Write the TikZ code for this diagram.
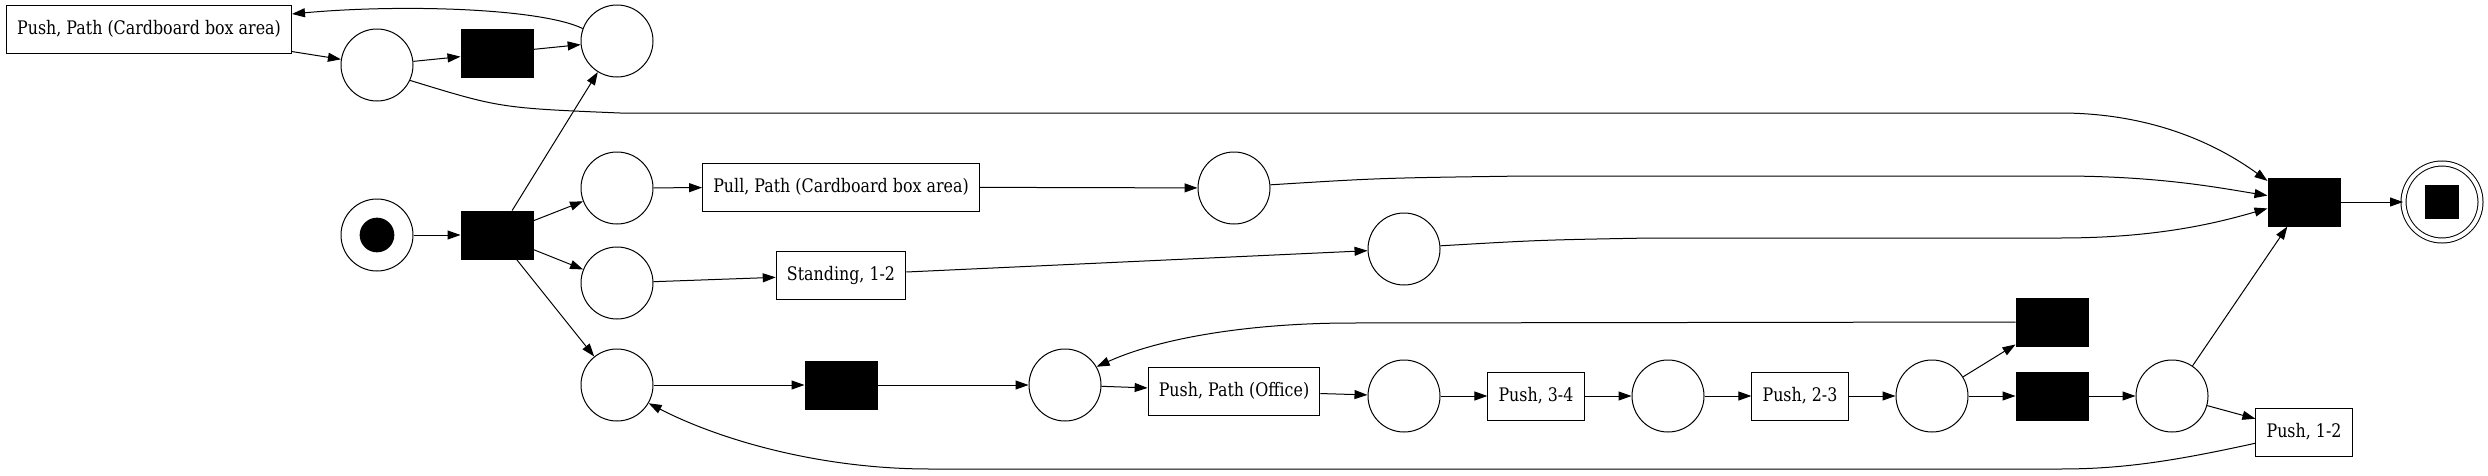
\documentclass[tikz,border=0pt]{standalone}
\usepackage{fontspec}
\setmainfont{DejaVu Serif}[FakeStretch=0.85]
\usetikzlibrary{%
  arrows.meta,%
  shapes,%
  positioning,% wg. " of "
  calc
}

\begin{document}
\begin{tikzpicture}
  [
  x=0.75pt, y=-0.75pt,
  font=\fontsize{14pt}{16pt}\selectfont, draw=black, >={Triangle[length=9.75pt,width=6.75pt]}, line width=0.75pt,
  place/.style={circle, minimum size=54pt, inner sep=0pt, draw=black},
  trans/.style={rectangle, minimum height=36pt, minimum width=54pt, inner sep=0pt, fill=black, draw=black},
  task/.style={rectangle, minimum height=36pt, minimum width=54pt, inner xsep=8pt, draw=black}
  ]
\useasboundingbox (0,0) rectangle (2488,475);

% places
\node[place] (pS) at (377,235) {};
\node[circle, fill=black, minimum size=26pt, inner sep=0pt] (tok) at (pS) {};
\foreach \n/\x/\y in {1/377/65, 2/617/41, 3/617/188, 4/617/283, 5/617/385, 6/1234/188,
  7/1404/249, 8/1065/385, 9/1404/396, 10/1668/396, 11/1932/396, 12/2172/396} {
  \node[place] (p\n) at (\x,\y) {};
}
\node[place, minimum size=57.75pt, double, double distance=3pt] (pE) at (2442,202) {};
\node[rectangle, fill=black, minimum size=25pt, inner sep=0pt] (pEmark) at (pE) {};

% transitions
\foreach \t/\x/\y in {0/497/235, 1/497/53, 2/841/385, 3/2052/322, 4/2052/396, 5/2304/202} {
  \node[trans] (t\t) at (\x,\y) {};
}

\node[task] (b1) at (149,29) {Push, Path (Cardboard box area)};
\node[task] (b2) at (841,187) {Pull, Path (Cardboard box area)};
\node[task] (b3) at (841,275) {Standing, 1-2};
\node[task] (b4) at (1234,391) {Push, Path (Office)};
\node[task] (b5) at (1536,396) {Push, 3-4};
\node[task] (b6) at (1800,396) {Push, 2-3};
\node[task] (b7) at (2304,432) {Push, 1-2};

\draw[->] (pS) -- (t0);
\foreach \p in {2,3,4,5} {
  \draw[->] (t0) -- (p\p);
}
\foreach \a/\b in {b1/p1, p1/t1, t1/p2, p3/b2, b2/p6, p4/b3, b3/p7, p5/t2, t2/p8,
  p8/b4, b4/p9, p9/b5, b5/p10, p10/b6, b6/p11, p11/t3, p11/t4, t4/p12,
  p12/t5, p12/b7, t5/pE} {
  \draw[->] (\a) -- (\b);
}

% loops back
\draw[->] (p2.160) .. controls (540,8) and (400,4) .. (b1.6);
\draw[->] (t3.west) -- (1352,323) .. controls (1250,323) and (1160,338) .. (p8.30);
\draw[->] (b7.193) .. controls (2170,462) and (2120,469) .. (2060,469) -- (930,469)
  .. controls (820,469) and (720,440) .. (p5.-30);

% into the last transition
\draw[->] (p1.-25) .. controls (500,108) .. (620,113) -- (2060,113)
  .. controls (2160,113) and (2225,150) .. (t5.150);
\draw[->] (p6.5) .. controls (1380,178) .. (1525,176) -- (2060,176)
  .. controls (2160,176) and (2220,188) .. (t5.170);
\draw[->] (p7.5) .. controls (1540,240) .. (1650,238) -- (2060,238)
  .. controls (2160,238) and (2220,222) .. (t5.190);

\end{tikzpicture}
\end{document}
